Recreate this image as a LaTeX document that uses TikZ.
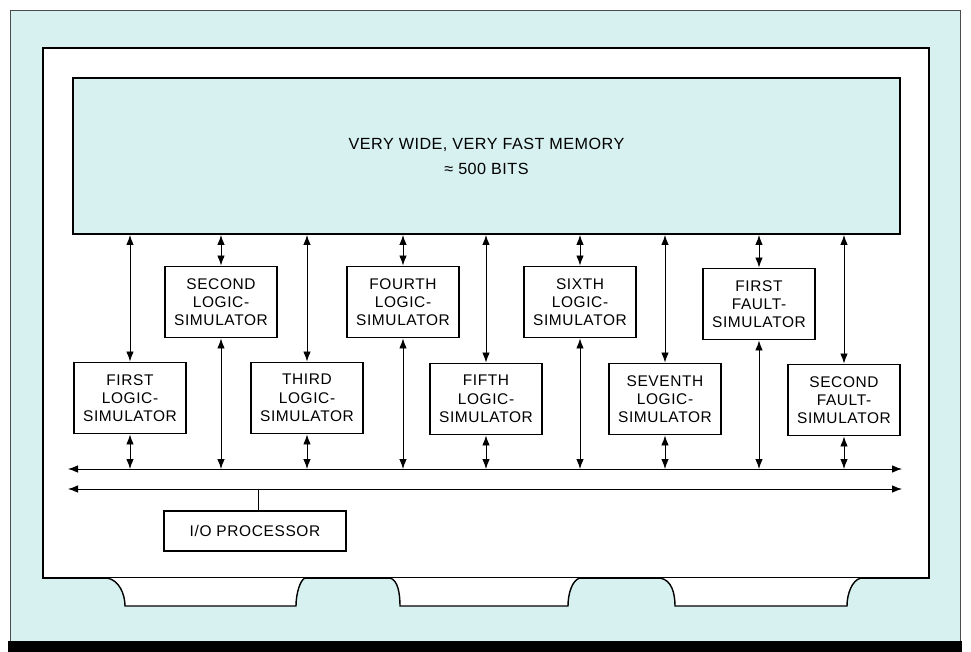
\documentclass[tikz,border=0pt]{standalone}
\usepackage{fontspec}
\setmainfont{Liberation Sans}
\usepackage{xcolor}
\usetikzlibrary{arrows.meta,positioning}
\definecolor{memcyan}{RGB}{214,241,239}

\begin{document}
\begin{tikzpicture}[x=0.2mm, y=-0.2mm,
  sim/.style={draw, line width=1.1pt, fill=white, minimum width=22.4mm,
              minimum height=14.2mm, align=center, inner sep=1pt,
              font=\fontsize{8.8}{10.4}\selectfont\addfontfeature{LetterSpace=4}},
  mem/.style={draw, line width=1.1pt, fill=memcyan, minimum width=165.4mm,
              minimum height=31.2mm, align=center,
              font=\fontsize{9.2}{14.2}\selectfont\addfontfeature{LetterSpace=3}},
  iobox/.style={draw, line width=1.1pt, fill=white, minimum width=36.4mm,
                minimum height=8mm,
                font=\fontsize{8.8}{10.4}\selectfont\addfontfeature{LetterSpace=4}},
  ar/.style={{Latex[length=2mm,width=1.5mm]}-{Latex[length=2mm,width=1.5mm]},
             line width=0.5pt},
  tab/.style={fill=white, line width=0.8pt}
]
  \useasboundingbox (0,0) rectangle (971,652);
  % frame and panel
  \fill[memcyan] (10,10) rectangle (960,641);
  \draw[line width=0.5pt, black!70] (10,641) -- (10,10) -- (960,10) -- (960,641);
  \fill[black] (8,641) rectangle (962,652);
  \draw[fill=white, line width=0.8pt] (43,48) rectangle (929,578);
  \draw[tab] (107,578) .. controls (119,580) and (125,594) .. (125,606)
    -- (296,606) .. controls (296,594) and (300,580) .. (305,578);
  \draw[tab] (390,578) .. controls (398,580) and (400,594) .. (400,606)
    -- (568,606) .. controls (568,594) and (572,580) .. (580,578);
  \draw[tab] (660,578) .. controls (672,580) and (675,594) .. (675,606)
    -- (847,606) .. controls (847,594) and (852,580) .. (861,578);

  \node[mem] (mem) at (486.5,156) {VERY WIDE, VERY FAST MEMORY\\≈ 500 BITS};

  \node[sim] (ls1) at (130,398) {FIRST\\LOGIC-\\SIMULATOR};
  \node[sim] (ls2) at (221,302) {SECOND\\LOGIC-\\SIMULATOR};
  \node[sim] (ls3) at (307,398) {THIRD\\LOGIC-\\SIMULATOR};
  \node[sim] (ls4) at (403,302) {FOURTH\\LOGIC-\\SIMULATOR};
  \node[sim] (ls5) at (486,399) {FIFTH\\LOGIC-\\SIMULATOR};
  \node[sim] (ls6) at (580,302) {SIXTH\\LOGIC-\\SIMULATOR};
  \node[sim] (ls7) at (665,399) {SEVENTH\\LOGIC-\\SIMULATOR};
  \node[sim] (fs1) at (759,304) {FIRST\\FAULT-\\SIMULATOR};
  \node[sim] (fs2) at (844,400) {SECOND\\FAULT-\\SIMULATOR};

  \node[iobox] (io) at (255,531) {I/O PROCESSOR};

  % buses
  \coordinate (busAl) at (68,469);
  \coordinate (busAr) at (902,469);
  \coordinate (busBl) at (68,489);
  \coordinate (busBr) at (902,489);
  \draw[ar] (busAl) -- (busAr);
  \draw[ar] (busBl) -- (busBr);
  \draw[line width=0.5pt] (io.north -| 258,0) -- (busBl -| 258,0);

  % memory <-> simulators <-> bus
  \draw[ar] (mem.south -| ls1) -- (ls1);
  \draw[ar] (ls1) -- (ls1 |- busAl);
  \draw[ar] (mem.south -| ls2) -- (ls2);
  \draw[ar] (ls2) -- (ls2 |- busAl);
  \draw[ar] (mem.south -| ls3) -- (ls3);
  \draw[ar] (ls3) -- (ls3 |- busAl);
  \draw[ar] (mem.south -| ls4) -- (ls4);
  \draw[ar] (ls4) -- (ls4 |- busAl);
  \draw[ar] (mem.south -| ls5) -- (ls5);
  \draw[ar] (ls5) -- (ls5 |- busAl);
  \draw[ar] (mem.south -| ls6) -- (ls6);
  \draw[ar] (ls6) -- (ls6 |- busAl);
  \draw[ar] (mem.south -| ls7) -- (ls7);
  \draw[ar] (ls7) -- (ls7 |- busAl);
  \draw[ar] (mem.south -| fs1) -- (fs1);
  \draw[ar] (fs1) -- (fs1 |- busAl);
  \draw[ar] (mem.south -| fs2) -- (fs2);
  \draw[ar] (fs2) -- (fs2 |- busAl);
\end{tikzpicture}
\end{document}
